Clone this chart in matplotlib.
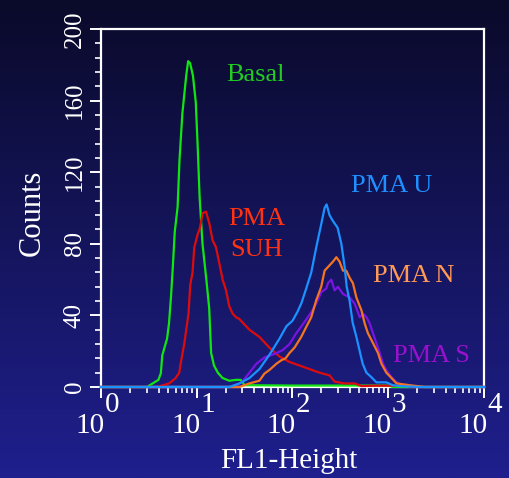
import numpy as np
import matplotlib
matplotlib.use("Agg")
import matplotlib.pyplot as plt

# ---------------- data (x as log10 FL1-Height, y as counts) ----------------
basal_log = [0.00, 0.48, 0.60, 0.625, 0.64, 0.69, 0.71, 0.73, 0.75, 0.77, 0.80, 0.82, 0.85, 0.89,
             0.91, 0.93, 0.96, 0.99, 1.01, 1.03, 1.06, 1.10, 1.13, 1.15, 1.18, 1.22, 1.27, 1.34,
             1.41, 1.46, 1.50, 2.00, 2.50, 3.00, 3.05, 4.00]
basal_cnt = [0, 0, 4, 7.7, 17.7, 27, 35.5, 49.6, 67, 86.5, 100.6, 127, 153, 174,
             182, 181, 174, 159, 134, 106, 80, 60, 44, 19, 12, 8, 5, 3.5,
             4, 4, 1, 0.8, 0.8, 0.8, 0, 0]

suh_log = [0.00, 0.586, 0.712, 0.78, 0.817, 0.835, 0.869, 0.893, 0.914, 0.932, 0.956, 0.974,
           1.008, 1.034, 1.061, 1.096, 1.131, 1.165, 1.201, 1.236, 1.27, 1.306, 1.34, 1.375,
           1.41, 1.445, 1.497, 1.55, 1.654, 1.759, 1.864, 1.969, 2.073, 2.178, 2.283, 2.387,
           2.44, 2.545, 2.65, 2.72, 2.85, 3.2, 3.25, 4.00]
suh_cnt = [0, 0, 2, 5, 8, 14, 24, 33, 41, 57, 64, 78,
           85, 89, 97, 98, 91.5, 82, 78, 69, 60, 54, 45, 41,
           39, 38, 35, 32, 28, 22, 17, 14, 12, 10, 8, 6.5,
           3, 2, 2, 0.5, 0.7, 0.7, 0, 0]

pmau_log = [0.00, 1.34, 1.445, 1.55, 1.654, 1.759, 1.864, 1.937, 2.00, 2.052, 2.094, 2.143,
            2.196, 2.248, 2.30, 2.335, 2.356, 2.387, 2.419, 2.471, 2.51, 2.545, 2.566, 2.597,
            2.628, 2.667, 2.702, 2.733, 2.772, 2.824, 2.876, 2.98, 3.047, 3.12, 3.33, 4.00]
pmau_cnt = [0, 0, 2, 5, 10, 18, 27, 34, 37, 42, 47, 55,
            64, 78, 91, 100, 102, 96, 93, 89, 80, 67, 56, 48,
            36, 28, 20, 13, 8, 5.5, 2.6, 2.6, 1, 0.5, 0, 0]

pman_log = [0.00, 1.445, 1.55, 1.654, 1.707, 1.759, 1.832, 1.885, 1.927, 1.969, 2.021, 2.091,
            2.143, 2.196, 2.248, 2.30, 2.335, 2.37, 2.422, 2.458, 2.492, 2.527, 2.562, 2.597,
            2.631, 2.667, 2.719, 2.754, 2.788, 2.841, 2.893, 2.929, 2.98, 3.034, 3.086, 3.225,
            3.38, 4.00]
pman_cnt = [0, 0, 2, 3.5, 7.5, 9.5, 13, 15, 16, 19, 22, 28,
            33.5, 39, 48.5, 56, 65, 67, 70, 72.5, 70, 65, 65, 61,
            58, 50, 43, 35.5, 30, 24.5, 19, 13, 8, 5, 2, 1,
            0, 0]

pmas_log = [0.00, 1.393, 1.476, 1.55, 1.623, 1.707, 1.812, 1.895, 1.969, 2.039, 2.094, 2.147,
            2.199, 2.251, 2.30, 2.353, 2.37, 2.405, 2.44, 2.474, 2.527, 2.597, 2.649, 2.702,
            2.737, 2.772, 2.806, 2.841, 2.876, 2.911, 2.946, 2.98, 3.034, 3.086, 3.152, 3.28,
            4.00]
pmas_cnt = [0, 0, 3, 8, 13, 16.5, 18.5, 20.5, 24, 30, 34, 38,
            42, 47, 53, 55, 58, 60, 54, 56, 52, 50, 46.6, 39,
            41, 39, 35.5, 30, 24.5, 19, 13, 9.4, 5.5, 2.6, 1, 0,
            0]

series_names = ["Basal", "PMA SUH", "PMA S", "PMA N", "PMA U"]
x_decades = [0, 1, 2, 3, 4]
y_ticks = [0, 40, 80, 120, 160, 200]

# ---------------- figure ----------------
W, H = 510, 478
fig = plt.figure(figsize=(W / 100, H / 100), dpi=100)

# background gradient
bg = fig.add_axes([0, 0, 1, 1], zorder=-10)
top = np.array([10, 10, 42]) / 255.0
bot = np.array([31, 31, 142]) / 255.0
t = np.linspace(0, 1, 256)[:, None]
grad = top[None, :] * (1 - t) + bot[None, :] * t
bg.imshow(grad[:, None, :], aspect="auto", extent=[0, 1, 0, 1])
bg.axis("off")

L, R, T, B = 101, 484, 29, 387
ax = fig.add_axes([L / W, 1 - B / H, (R - L) / W, (B - T) / H])
ax.set_facecolor("none")
ax.set_xscale("log")
ax.set_xlim(1, 1e4)
ax.set_ylim(0, 200)

for s in ax.spines.values():
    s.set_color("white")
    s.set_linewidth(1.6)
    s.set_zorder(2)

series = [
    (basal_log, basal_cnt, "#12e612"),
    (suh_log, suh_cnt, "#dd0c0c"),
    (pmas_log, pmas_cnt, "#7a14e0"),
    (pman_log, pman_cnt, "#f47420"),
    (pmau_log, pmau_cnt, "#1a92ff"),
]
for i, (lx, cy, col) in enumerate(series):
    ax.plot(10 ** np.asarray(lx), cy, color=col, lw=1.6,
            clip_on=False, zorder=5 + i)

# ticks
ax.set_xticks([10 ** d for d in x_decades])
ax.set_xticklabels([])
ax.xaxis.set_minor_locator(matplotlib.ticker.LogLocator(base=10, subs=np.arange(2, 10)))
ax.xaxis.set_minor_formatter(matplotlib.ticker.NullFormatter())
ax.set_yticks(y_ticks)
ax.yaxis.set_minor_locator(matplotlib.ticker.MultipleLocator(8))
ax.tick_params(which="major", direction="out", length=8, width=1.4, color="white")
ax.tick_params(which="minor", direction="out", length=4.5, width=1.2, color="white")
ax.tick_params(axis="y", which="major", labelsize=18, labelcolor="white", pad=3)
for lab in ax.get_yticklabels():
    lab.set_rotation(90)
    lab.set_va("center")
    lab.set_family("Liberation Serif")

serif = "Liberation Serif"
for d in x_decades:
    ax.annotate("10", xy=(10 ** d, 0), xycoords=("data", "axes fraction"),
                xytext=(-11, -39), textcoords="offset pixels", ha="center", va="center",
                color="white", fontsize=21, family=serif)
    ax.annotate(str(d), xy=(10 ** d, 0), xycoords=("data", "axes fraction"),
                xytext=(11, -18), textcoords="offset pixels", ha="center", va="center",
                color="white", fontsize=21, family=serif)

def ftext(xp, yp, s, **kw):
    fig.text(xp / W, 1 - yp / H, s, family=serif, **kw)

ftext(289, 468, "FL1-Height", ha="center", va="baseline", color="white", fontsize=21)
ftext(32, 213, "Counts", ha="center", va="center", rotation=90, color="white", fontsize=22)

ftext(255, 81, "Basal", ha="center", va="baseline", color="#22cc22", fontsize=19)
ftext(257, 225, "PMA", ha="center", va="baseline", color="#ff3311", fontsize=19)
ftext(257, 256, "SUH", ha="center", va="baseline", color="#ff3311", fontsize=19)
ftext(392, 192, "PMA U", ha="center", va="baseline", color="#1e90ff", fontsize=19)
ftext(414, 282, "PMA N", ha="center", va="baseline", color="#ff9955", fontsize=19)
ftext(431, 362, "PMA S", ha="center", va="baseline", color="#9911cc", fontsize=19)

fig.savefig("out.png", dpi=100)
